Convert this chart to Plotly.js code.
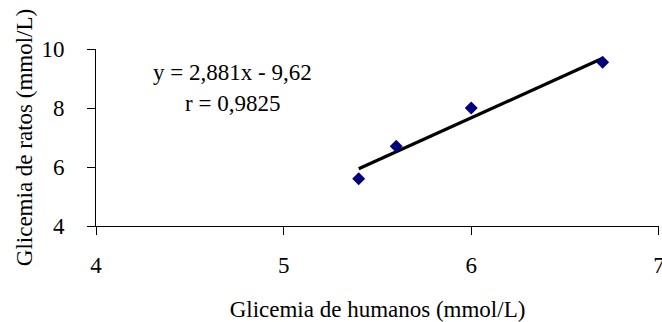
<!DOCTYPE html>
<html>
<head>
<meta charset="utf-8">
<script src="https://cdn.plot.ly/plotly-3.0.1.min.js"></script>
<style>html,body{margin:0;padding:0;background:#fff;}#chart{width:662px;height:322px;}</style>
</head>
<body>
<div id="chart"></div>
<script>
const humanos = [5.4, 5.6, 6.0, 6.7];
const ratos = [5.6, 6.7, 8.0, 9.55];
const slope = 2.881;
const intercept = -9.62;
const rValue = "0,9825";
const xTicks = [4, 5, 6, 7];
const yTicks = [4, 6, 8, 10];

const xMin = Math.min(...humanos), xMax = Math.max(...humanos);
const trendX = [xMin, xMax];
const trendY = trendX.map(x => slope * x + intercept);

const font = {family: '"Liberation Serif", "Times New Roman", serif', size: 23, color: '#000'};

const traces = [
  {x: trendX, y: trendY, type: 'scatter', mode: 'lines', line: {color: '#000', width: 3.3}, hoverinfo: 'skip', cliponaxis: false},
  {x: humanos, y: ratos, type: 'scatter', mode: 'markers', cliponaxis: false,
   marker: {symbol: 'diamond', size: 10, color: '#000080', line: {width: 0}}}
];

const fmt = v => v.toString().replace('.', ',');

const layout = {
  width: 662, height: 322,
  margin: {l: 96, r: 3, t: 49, b: 96},
  paper_bgcolor: '#fff', plot_bgcolor: '#fff',
  showlegend: false,
  font: font,
  xaxis: {
    range: [4, 7.0005], tickvals: xTicks, ticktext: xTicks.map(fmt),
    showgrid: false, zeroline: false, showline: true, linecolor: '#000', linewidth: 1,
    ticks: 'outside', ticklen: 8, tickcolor: '#000', tickwidth: 1,
    ticklabelstandoff: 10, ticklabeloverflow: 'allow',
    title: {text: 'Glicemia de humanos (mmol/L)', font: font, standoff: 25},
    automargin: false
  },
  yaxis: {
    range: [4, 10], tickvals: yTicks, ticktext: yTicks.map(fmt),
    showgrid: false, zeroline: false, showline: true, linecolor: '#000', linewidth: 1,
    ticks: 'outside', ticklen: 8, tickcolor: '#000', tickwidth: 1,
    ticklabelstandoff: 18,
    title: {text: 'Glicemia de ratos (mmol/L)', font: font, standoff: 2},
    automargin: false
  },
  annotations: [
    {xref: 'paper', yref: 'paper', x: (232 - 96) / 563, y: (226 - 72) / 177,
     text: 'y = ' + fmt(slope) + 'x - ' + fmt(-intercept), showarrow: false, font: font,
     xanchor: 'center', yanchor: 'middle'},
    {xref: 'paper', yref: 'paper', x: (232 - 96) / 563, y: (226 - 103) / 177,
     text: 'r = ' + rValue, showarrow: false, font: font, xanchor: 'center', yanchor: 'middle'}
  ]
};

Plotly.newPlot('chart', traces, layout, {displayModeBar: false, staticPlot: true});
</script>
</body>
</html>
